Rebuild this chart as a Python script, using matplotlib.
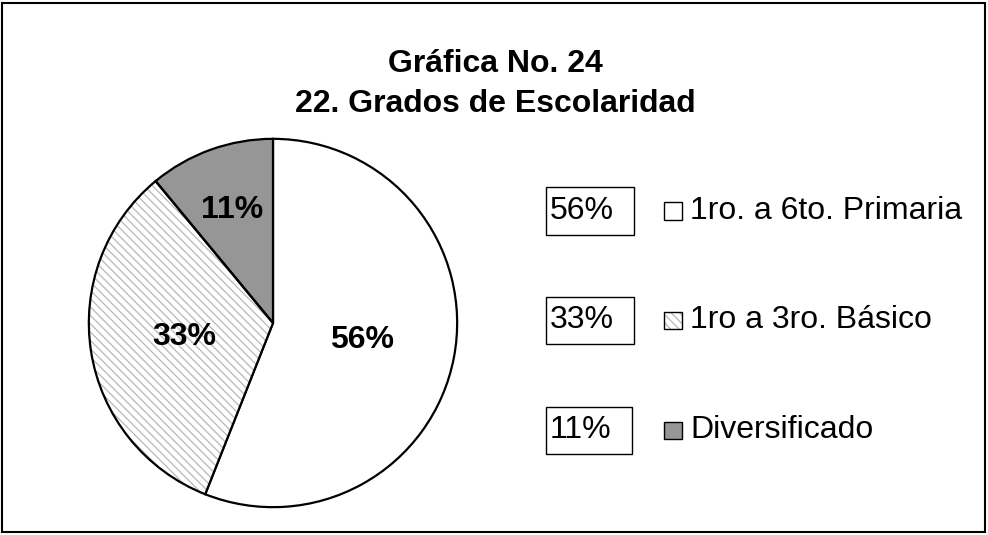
import matplotlib
matplotlib.use("Agg")
import matplotlib.pyplot as plt
from matplotlib.patches import Rectangle, Wedge
import numpy as np

plt.rcParams['font.family'] = ['Liberation Sans', 'DejaVu Sans']
plt.rcParams['hatch.linewidth'] = 0.9

title_lines = ["Gráfica No. 24", "22. Grados de Escolaridad"]
categories = ["1ro. a 6to. Primaria", "1ro a 3ro. Básico", "Diversificado"]
values = [56, 33, 11]
pct_labels = ["56%", "33%", "11%"]
face_colors = ["white", "white", "#969696"]
hatches = [None, "\\\\\\\\", None]
hatch_color = "#b8b8b8"

W, H = 988, 535
fig = plt.figure(figsize=(W / 100, H / 100), dpi=100)

# border
fig.patches.append(Rectangle((2 / W, 3 / H), (W - 5) / W, (H - 6) / H,
                             transform=fig.transFigure, fill=False,
                             edgecolor="black", linewidth=1.5))

# pie
cx, cy, r = 273, H - 323, 186
ax = fig.add_axes([(cx - r) / W, (cy - r) / H, 2 * r / W, 2 * r / H])
wedges, texts, autotexts = ax.pie(values, startangle=90, counterclock=False,
                                  colors=face_colors, autopct="%1.0f%%",
                                  pctdistance=0.49, radius=1,
                                  wedgeprops=dict(edgecolor="black", linewidth=1.6),
                                  textprops=dict(fontsize=23, fontweight="bold"))
for w, h in zip(wedges, hatches):
    if h:
        w.set_hatch(h)
        w.set_edgecolor(hatch_color)
        w.set_linewidth(0)
        ax.add_patch(Wedge(w.center, w.r, w.theta1, w.theta2, fill=False,
                           edgecolor="black", linewidth=1.6))
# move small slice label outward
t = autotexts[2]
x, y = t.get_position()
t.set_position((x * 0.65 / 0.49, y * 0.65 / 0.49))
ax.set_xlim(-1.01, 1.01)
ax.set_ylim(-1.01, 1.01)
ax.set_aspect("equal")
ax.axis("off")

# title
fig.text(495 / W, 1 - 84 / H, "\n".join(title_lines), ha="center", va="center",
         fontsize=23, fontweight="bold", linespacing=1.45)

# legend with percentage boxes
fig.canvas.draw()
renderer = fig.canvas.get_renderer()
row_y0, row_step = 211, 109.5
for i, (cat, pl, fc, h) in enumerate(zip(categories, pct_labels, face_colors, hatches)):
    ypx = row_y0 + i * row_step
    yy = 1 - ypx / H
    tt = fig.text(550 / W, yy, pl, ha="left", va="center", fontsize=23)
    ext = tt.get_window_extent(renderer)
    x0 = 546
    x1 = ext.x1 + 20
    bh = 47
    fig.patches.append(Rectangle((x0 / W, yy - bh / 2 / H), (x1 - x0) / W, bh / H,
                                 transform=fig.transFigure, facecolor="white",
                                 edgecolor="black", linewidth=1.0, zorder=0))
    sqw, sqh = 18, 17
    if h:
        fig.patches.append(Rectangle((664 / W, yy - sqh / 2 / H), sqw / W, sqh / H,
                                     transform=fig.transFigure, facecolor=fc,
                                     edgecolor=hatch_color, linewidth=0, hatch=h))
    fig.patches.append(Rectangle((664 / W, yy - sqh / 2 / H), sqw / W, sqh / H,
                                 transform=fig.transFigure,
                                 facecolor="none" if h else fc,
                                 edgecolor="black", linewidth=1.0))
    fig.text(690 / W, yy, cat, ha="left", va="center", fontsize=23)

fig.savefig("out.png", dpi=100)
